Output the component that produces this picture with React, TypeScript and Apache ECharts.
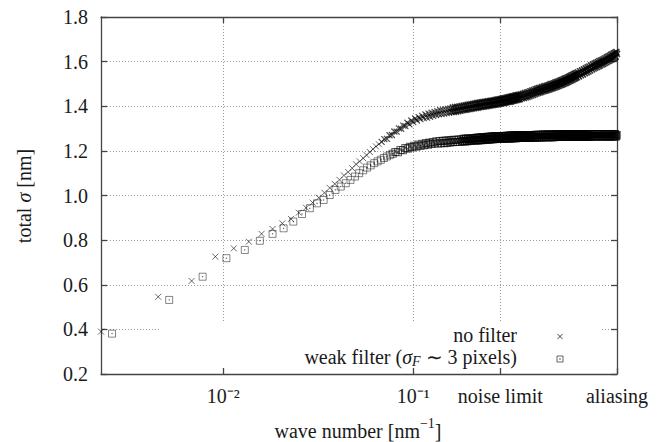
import { useEffect, useRef } from 'react';
import * as echarts from 'echarts';

// Wave-number grid spacing (nm^-1) of each measurement set
const noFilterStep = 0.00227;
const weakFilterStep = 0.002594;

// Reference wave numbers marked on the x axis
const noiseLimit = 0.287;
const aliasingLimit = 520 * noFilterStep;

// Sampled mode indices, written as [first, last, stride]
const noFilterModes = [
  [1, 160, 1],
  [162, 320, 2],
  [324, 520, 4],
];
const weakFilterModes = [
  [1, 160, 1],
  [162, 320, 2],
  [324, 452, 4],
];

// total sigma [nm] for each sampled mode, no filter
const noFilterSigma = [
  0.39, 0.546, 0.617, 0.726, 0.763, 0.793, 0.828, 0.85, 0.875, 0.895,
  0.923, 0.945, 0.968, 0.99, 1.012, 1.034, 1.052, 1.07, 1.09, 1.105,
  1.122, 1.14, 1.153, 1.167, 1.181, 1.195, 1.208, 1.22, 1.23, 1.24,
  1.253, 1.254, 1.27, 1.271, 1.287, 1.286, 1.301, 1.299, 1.313, 1.311,
  1.326, 1.319, 1.336, 1.329, 1.345, 1.336, 1.351, 1.342, 1.357, 1.347,
  1.363, 1.349, 1.367, 1.353, 1.371, 1.357, 1.375, 1.361, 1.378, 1.364,
  1.382, 1.365, 1.384, 1.367, 1.386, 1.369, 1.388, 1.371, 1.39, 1.374,
  1.394, 1.375, 1.396, 1.376, 1.397, 1.378, 1.399, 1.38, 1.401, 1.382,
  1.403, 1.384, 1.404, 1.385, 1.406, 1.387, 1.408, 1.388, 1.409, 1.39,
  1.411, 1.391, 1.412, 1.393, 1.414, 1.394, 1.415, 1.396, 1.416, 1.397,
  1.418, 1.398, 1.419, 1.399, 1.42, 1.4, 1.421, 1.401, 1.422, 1.403,
  1.423, 1.404, 1.424, 1.405, 1.425, 1.406, 1.426, 1.407, 1.428, 1.408,
  1.429, 1.409, 1.43, 1.41, 1.431, 1.412, 1.432, 1.413, 1.433, 1.414,
  1.435, 1.415, 1.436, 1.416, 1.437, 1.418, 1.438, 1.419, 1.439, 1.42,
  1.441, 1.421, 1.442, 1.422, 1.443, 1.424, 1.444, 1.425, 1.445, 1.426,
  1.447, 1.427, 1.448, 1.428, 1.449, 1.43, 1.45, 1.431, 1.451, 1.432,
  1.453, 1.435, 1.456, 1.437, 1.459, 1.44, 1.461, 1.442, 1.464, 1.445,
  1.467, 1.448, 1.47, 1.451, 1.473, 1.454, 1.476, 1.457, 1.479, 1.46,
  1.481, 1.462, 1.483, 1.464, 1.486, 1.467, 1.488, 1.469, 1.49, 1.471,
  1.492, 1.473, 1.494, 1.475, 1.497, 1.478, 1.499, 1.48, 1.501, 1.482,
  1.503, 1.484, 1.506, 1.487, 1.508, 1.489, 1.51, 1.491, 1.512, 1.494,
  1.515, 1.496, 1.517, 1.498, 1.519, 1.5, 1.522, 1.503, 1.524, 1.505,
  1.526, 1.508, 1.529, 1.51, 1.531, 1.513, 1.534, 1.515, 1.536, 1.518,
  1.539, 1.52, 1.541, 1.523, 1.544, 1.525, 1.546, 1.528, 1.549, 1.53,
  1.552, 1.534, 1.557, 1.539, 1.561, 1.543, 1.565, 1.548, 1.57, 1.552,
  1.574, 1.556, 1.578, 1.56, 1.583, 1.565, 1.587, 1.569, 1.591, 1.573,
  1.595, 1.576, 1.598, 1.58, 1.602, 1.583, 1.605, 1.587, 1.608, 1.59,
  1.612, 1.594, 1.615, 1.597, 1.619, 1.601, 1.623, 1.604, 1.626, 1.608,
  1.63, 1.611, 1.633, 1.615, 1.637, 1.618, 1.64, 1.622, 1.643, 1.635,
];

// total sigma [nm] for each sampled mode, weak filter
const weakFilterSigma = [
  0.381, 0.532, 0.636, 0.719, 0.756, 0.797, 0.828, 0.853, 0.883, 0.917,
  0.943, 0.965, 0.98, 1.002, 1.025, 1.04, 1.055, 1.07, 1.085, 1.1,
  1.113, 1.125, 1.135, 1.145, 1.153, 1.16, 1.168, 1.175, 1.181, 1.187,
  1.195, 1.194, 1.204, 1.203, 1.213, 1.21, 1.218, 1.215, 1.223, 1.219,
  1.228, 1.222, 1.232, 1.226, 1.235, 1.228, 1.237, 1.231, 1.24, 1.233,
  1.243, 1.233, 1.244, 1.234, 1.245, 1.235, 1.246, 1.236, 1.247, 1.238,
  1.248, 1.239, 1.249, 1.24, 1.25, 1.24, 1.251, 1.241, 1.252, 1.243,
  1.253, 1.243, 1.254, 1.244, 1.255, 1.245, 1.255, 1.246, 1.256, 1.247,
  1.257, 1.248, 1.258, 1.248, 1.259, 1.249, 1.259, 1.249, 1.26, 1.25,
  1.26, 1.251, 1.261, 1.251, 1.262, 1.252, 1.262, 1.252, 1.263, 1.253,
  1.263, 1.253, 1.264, 1.254, 1.264, 1.254, 1.264, 1.255, 1.265, 1.255,
  1.265, 1.255, 1.266, 1.256, 1.266, 1.256, 1.266, 1.257, 1.267, 1.257,
  1.267, 1.257, 1.267, 1.257, 1.268, 1.258, 1.268, 1.258, 1.268, 1.258,
  1.268, 1.258, 1.268, 1.258, 1.269, 1.259, 1.269, 1.259, 1.269, 1.259,
  1.269, 1.259, 1.269, 1.259, 1.27, 1.26, 1.27, 1.26, 1.27, 1.26,
  1.27, 1.26, 1.27, 1.26, 1.27, 1.26, 1.27, 1.26, 1.27, 1.26,
  1.27, 1.26, 1.27, 1.26, 1.271, 1.261, 1.271, 1.261, 1.271, 1.261,
  1.271, 1.261, 1.272, 1.262, 1.272, 1.262, 1.272, 1.262, 1.272, 1.262,
  1.272, 1.262, 1.272, 1.262, 1.272, 1.262, 1.273, 1.263, 1.273, 1.263,
  1.273, 1.263, 1.273, 1.263, 1.273, 1.263, 1.273, 1.263, 1.273, 1.263,
  1.273, 1.263, 1.273, 1.263, 1.273, 1.263, 1.274, 1.264, 1.274, 1.264,
  1.274, 1.264, 1.274, 1.264, 1.274, 1.264, 1.274, 1.264, 1.274, 1.264,
  1.274, 1.264, 1.274, 1.264, 1.274, 1.264, 1.274, 1.264, 1.274, 1.264,
  1.274, 1.264, 1.274, 1.264, 1.274, 1.264, 1.274, 1.264, 1.274, 1.264,
  1.274, 1.264, 1.274, 1.264, 1.275, 1.265, 1.275, 1.265, 1.275, 1.265,
  1.275, 1.265, 1.275, 1.265, 1.275, 1.265, 1.275, 1.265, 1.275, 1.265,
  1.275, 1.265, 1.275, 1.265, 1.275, 1.265, 1.275, 1.265, 1.275, 1.265,
  1.275, 1.265, 1.27,
];

const xTickValues = [0.01, 0.1, noiseLimit, aliasingLimit];
const xTickLabels = ['10\u207b\u00b2', '10\u207b\u00b9', 'noise limit', 'aliasing'];

const seriesNames = ['no filter', 'weak filter'];

const FONT = 'Liberation Serif';
const F20 = '20px Liberation Serif, serif';
const F20I = 'italic 20px Liberation Serif, serif';
const F14 = '14px Liberation Serif, serif';
const F14I = 'italic 14px Liberation Serif, serif';
const TEXT = '#1a1a1a';
const FRAME = '#444';
const GRID = '#9a9a9a';
const CROSS_INK = 'rgba(0,0,0,0.72)';
const SQUARE_INK = 'rgba(0,0,0,0.6)';

type Ink = { sparse: [string, number]; mid: [string, number]; dense: [string, number] };

// where markers pile up into a band the strokes are drawn heavier
const crossInk: Ink = {
  sparse: [CROSS_INK, 1],
  mid: ['rgba(0,0,0,0.85)', 1.2],
  dense: ['rgba(0,0,0,0.95)', 1.6],
};
const squareInk: Ink = {
  sparse: [SQUARE_INK, 1],
  mid: ['rgba(0,0,0,0.75)', 1.15],
  dense: ['rgba(0,0,0,0.9)', 1.45],
};

function expandModes(modes: number[][]): number[] {
  const out: number[] = [];
  for (const [first, last, stride] of modes) {
    for (let n = first; n <= last; n += stride) out.push(n);
  }
  return out;
}

function toPoints(modes: number[][], step: number, sigma: number[], ink: Ink) {
  return expandModes(modes).map((n, i) => {
    const [borderColor, borderWidth] = n < 30 ? ink.sparse : n < 70 ? ink.mid : ink.dense;
    return {
      value: [n * step, sigma[i]],
      itemStyle: { color: 'rgba(0,0,0,0)', borderColor, borderWidth },
    };
  });
}

const CROSS = 'path://M0,0L10,10M10,0L0,10';
const SQUARE = 'path://M0,0H10V10H0ZM4.6,4.6H5.4V5.4H4.6Z';

export default function App() {
  const ref = useRef<HTMLDivElement>(null);

  useEffect(() => {
    if (!ref.current) return;
    const chart = echarts.init(ref.current, undefined, { renderer: 'svg' });

    const tickLine = { color: FRAME, width: 1.3 };
    const frameLine = { show: true, lineStyle: { color: FRAME, width: 1.3 } };
    const dotted = { color: GRID, width: 1, type: [1, 2] };

    const labelFor = (v: number) => {
      let best = 0;
      for (let i = 1; i < xTickValues.length; i++) {
        if (Math.abs(Math.log(v / xTickValues[i])) < Math.abs(Math.log(v / xTickValues[best]))) best = i;
      }
      return xTickLabels[best];
    };

    chart.setOption({
      animation: false,
      backgroundColor: '#fff',
      textStyle: { fontFamily: FONT, color: TEXT },
      grid: {
        left: 101,
        right: 43,
        top: 17,
        bottom: 68,
        containLabel: false,
        outerBoundsMode: 'none',
      },
      xAxis: [
        {
          type: 'log',
          logBase: 10,
          min: noFilterStep,
          max: aliasingLimit,
          position: 'bottom',
          z: 5,
          axisLine: frameLine,
          axisTick: { show: true, inside: true, length: 6, customValues: xTickValues, lineStyle: tickLine },
          minorTick: { show: false },
          axisLabel: {
            customValues: xTickValues,
            margin: 12,
            fontFamily: FONT,
            fontSize: 20,
            color: TEXT,
            formatter: (v: number) => labelFor(v),
          },
          splitLine: { show: false },
          minorSplitLine: { show: false },
        },
        {
          type: 'log',
          logBase: 10,
          min: noFilterStep,
          max: aliasingLimit,
          position: 'top',
          z: 0,
          axisLine: frameLine,
          axisTick: { show: true, inside: true, length: 6, customValues: xTickValues, lineStyle: tickLine },
          minorTick: { show: false },
          axisLabel: { show: false },
          splitLine: { show: true, lineStyle: dotted },
          minorSplitLine: { show: false },
        },
      ],
      yAxis: [
        {
          type: 'value',
          min: 0.2,
          max: 1.8,
          interval: 0.2,
          position: 'left',
          z: 0,
          axisLine: frameLine,
          axisTick: { show: true, inside: true, length: 6, lineStyle: tickLine },
          axisLabel: {
            margin: 13,
            fontFamily: FONT,
            fontSize: 20,
            color: TEXT,
            formatter: (v: number) => v.toFixed(1),
          },
          splitLine: { show: true, lineStyle: dotted },
        },
        {
          type: 'value',
          min: 0.2,
          max: 1.8,
          interval: 0.2,
          position: 'right',
          z: 0,
          axisLine: frameLine,
          axisTick: { show: true, inside: true, length: 6, lineStyle: tickLine },
          axisLabel: { show: false },
          splitLine: { show: false },
        },
      ],
      series: [
        {
          name: seriesNames[0],
          type: 'scatter',
          xAxisIndex: 0,
          yAxisIndex: 0,
          z: 3,
          clip: false,
          symbol: CROSS,
          symbolSize: 6,
          itemStyle: { color: 'rgba(0,0,0,0)', borderColor: CROSS_INK, borderWidth: 1 },
          emphasis: { disabled: true },
          data: toPoints(noFilterModes, noFilterStep, noFilterSigma, crossInk),
        },
        {
          name: seriesNames[1],
          type: 'scatter',
          xAxisIndex: 0,
          yAxisIndex: 0,
          z: 3,
          clip: false,
          symbol: SQUARE,
          symbolSize: 7,
          itemStyle: { color: 'rgba(0,0,0,0)', borderColor: SQUARE_INK, borderWidth: 1 },
          emphasis: { disabled: true },
          data: toPoints(weakFilterModes, weakFilterStep, weakFilterSigma, squareInk),
        },
      ],
      graphic: [
        // axis titles
        {
          type: 'text',
          z: 4,
          x: 358,
          y: 428.5,
          style: {
            text: '{t|wave number [nm}{sup|\u22121}{t|]}',
            font: F20,
            fill: TEXT,
            align: 'center',
            verticalAlign: 'middle',
            rich: {
              t: { font: F20, fill: TEXT, verticalAlign: 'bottom' },
              sup: { font: F14, fill: TEXT, verticalAlign: 'bottom', padding: [0, 0, 10, 0] },
            },
          },
        },
        {
          type: 'text',
          z: 4,
          x: 24,
          y: 196,
          rotation: Math.PI / 2,
          style: {
            text: '{t|total }{i|\u03c3}{t| [nm]}',
            font: F20,
            fill: TEXT,
            align: 'center',
            verticalAlign: 'middle',
            rich: {
              t: { font: F20, fill: TEXT },
              i: { font: F20I, fill: TEXT },
            },
          },
        },
        // key
        {
          type: 'rect',
          z: 1,
          silent: true,
          shape: { x: 160, y: 323, width: 442, height: 50 },
          style: { fill: '#fff' },
        },
        {
          type: 'text',
          z: 4,
          x: 517,
          y: 335,
          style: {
            text: seriesNames[0],
            font: F20,
            fill: TEXT,
            align: 'right',
            verticalAlign: 'middle',
          },
        },
        {
          type: 'text',
          z: 4,
          x: 517,
          y: 357.5,
          style: {
            text: '{t|weak filter (}{i|\u03c3}{sub|F}{t| \u223c 3 pixels)}',
            font: F20,
            fill: TEXT,
            align: 'right',
            verticalAlign: 'middle',
            rich: {
              t: { font: F20, fill: TEXT, verticalAlign: 'top' },
              i: { font: F20I, fill: TEXT, verticalAlign: 'top' },
              sub: { font: F14I, fill: TEXT, verticalAlign: 'top', padding: [7, 0, 0, 0] },
            },
          },
        },
        {
          type: 'line',
          z: 4,
          shape: { x1: 557.4, y1: 333.9, x2: 562.6, y2: 339.1 },
          style: { stroke: CROSS_INK, lineWidth: 1 },
        },
        {
          type: 'line',
          z: 4,
          shape: { x1: 562.6, y1: 333.9, x2: 557.4, y2: 339.1 },
          style: { stroke: CROSS_INK, lineWidth: 1 },
        },
        {
          type: 'rect',
          z: 4,
          shape: { x: 557, y: 356, width: 6, height: 6 },
          style: { fill: 'none', stroke: SQUARE_INK, lineWidth: 1 },
        },
        {
          type: 'rect',
          z: 4,
          shape: { x: 559.6, y: 358.6, width: 0.8, height: 0.8 },
          style: { fill: 'none', stroke: 'rgba(0,0,0,0.45)', lineWidth: 1 },
        },
      ],
    });

    return () => chart.dispose();
  }, []);

  return (
    <div
      ref={ref}
      style={{ position: 'fixed', left: 0, top: 0, width: 660, height: 442, background: '#fff' }}
    />
  );
}
